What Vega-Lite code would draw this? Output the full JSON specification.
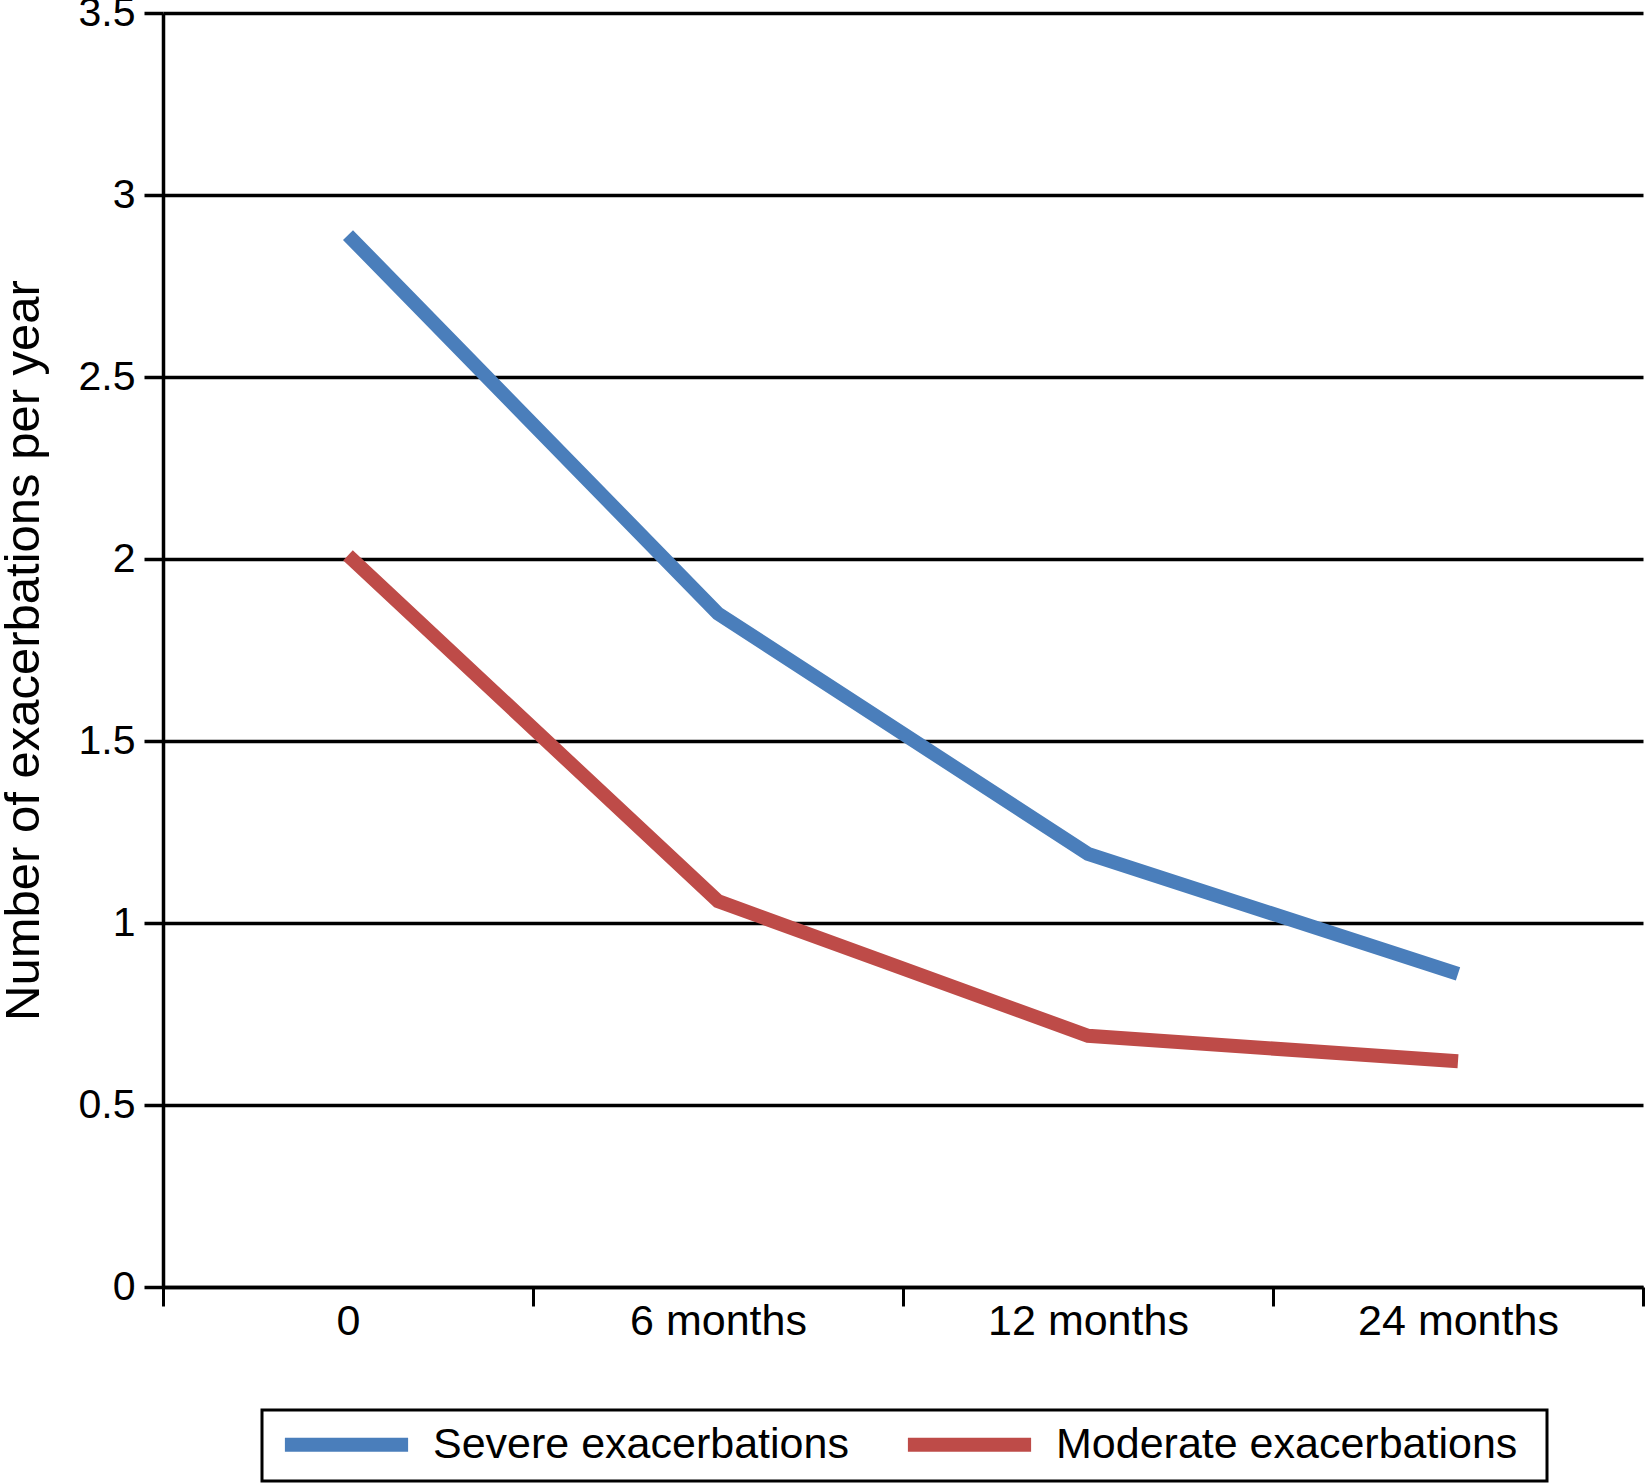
{
  "$schema": "https://vega.github.io/schema/vega-lite/v6.json",
  "autosize": {"type": "none"},
  "padding": {"left": 163, "top": 13, "right": 3, "bottom": 196},
  "width": 1480,
  "height": 1274,
  "background": "white",
  "data": {
    "values": [
      {"time": "0", "series": "Severe exacerbations", "value": 2.89},
      {"time": "6 months", "series": "Severe exacerbations", "value": 1.85},
      {"time": "12 months", "series": "Severe exacerbations", "value": 1.19},
      {"time": "24 months", "series": "Severe exacerbations", "value": 0.86},
      {"time": "0", "series": "Moderate exacerbations", "value": 2.01},
      {"time": "6 months", "series": "Moderate exacerbations", "value": 1.06},
      {"time": "12 months", "series": "Moderate exacerbations", "value": 0.69},
      {"time": "24 months", "series": "Moderate exacerbations", "value": 0.62}
    ]
  },
  "mark": {"type": "line", "strokeWidth": 14, "strokeCap": "butt", "strokeJoin": "miter"},
  "encoding": {
    "x": {
      "field": "time",
      "type": "ordinal",
      "sort": ["0", "6 months", "12 months", "24 months"],
      "scale": {"type": "band", "paddingInner": 0, "paddingOuter": 0},
      "axis": {
        "title": null,
        "labelAngle": 0,
        "labelFont": "Liberation Sans",
        "labelFontSize": 43,
        "labelColor": "black",
        "labelPadding": -6,
        "labelLimit": 0,
        "tickBand": "extent",
        "tickSize": 19,
        "tickWidth": 3,
        "tickColor": "black",
        "domainColor": "black",
        "domainWidth": 3.5,
        "grid": false
      }
    },
    "y": {
      "field": "value",
      "type": "quantitative",
      "scale": {"domain": [0, 3.5], "nice": false},
      "axis": {
        "title": "Number of exacerbations per year",
        "titleFont": "Liberation Sans",
        "titleFontSize": 49,
        "titleFontWeight": "normal",
        "titleColor": "black",
        "titleX": -125,
        "titleY": 637,
        "titleAngle": -90,
        "titleAlign": "center",
        "titleBaseline": "alphabetic",
        "values": [0, 0.5, 1, 1.5, 2, 2.5, 3, 3.5],
        "format": ".1~f",
        "labelFont": "Liberation Sans",
        "labelFontSize": 41,
        "labelColor": "black",
        "labelPadding": 9,
        "tickSize": 19,
        "tickWidth": 3.5,
        "tickColor": "black",
        "domainColor": "black",
        "domainWidth": 3.5,
        "grid": true,
        "gridColor": "black",
        "gridWidth": 3.5,
        "gridOpacity": 1
      }
    },
    "color": {
      "field": "series",
      "type": "nominal",
      "sort": ["Severe exacerbations", "Moderate exacerbations"],
      "scale": {"domain": ["Severe exacerbations", "Moderate exacerbations"], "range": ["#4A7EBB", "#BE4B48"]},
      "legend": {
        "title": "\u00a0",
        "titleOrient": "right",
        "titleFontSize": 43,
        "titlePadding": 22,
        "orient": "none",
        "legendX": 99,
        "legendY": 1397,
        "direction": "horizontal",
        "columns": 2,
        "symbolType": "M-8.8,0.7H8.8",
        "symbolSize": 196,
        "symbolStrokeWidth": 14,
        "symbolOffset": 55,
        "labelFont": "Liberation Sans",
        "labelFontSize": 43,
        "labelColor": "black",
        "labelOffset": 65,
        "labelLimit": 0,
        "columnPadding": 30,
        "padding": 8,
        "strokeColor": "black",
        "encode": {
          "labels": {"update": {"dy": {"value": 5}}}
        }
      }
    }
  },
  "config": {
    "view": {"stroke": null},
    "legend": {"strokeWidth": 3}
  }
}
